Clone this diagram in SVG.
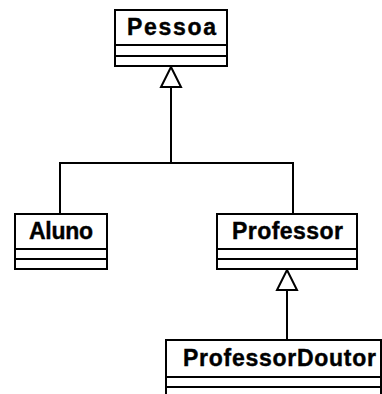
<svg xmlns="http://www.w3.org/2000/svg" width="382" height="394" viewBox="0 0 382 394">
<style>
.box{fill:#fff;stroke:#000;stroke-width:2}
.sep{stroke:#000;stroke-width:2}
.name{font-family:"Liberation Sans",Arial,sans-serif;font-weight:bold;font-size:23px;fill:#000;stroke:#000;stroke-width:0.4}
.edge{fill:none;stroke:#000;stroke-width:2}
.head{fill:#fff;stroke:#000;stroke-width:2}
</style>
<rect width="382" height="394" fill="#fff"/>
<g id="connectors">
<polyline class="edge" points="171,87 171,163"/>
<polyline class="edge" points="60,214 60,163 293,163 293,214"/>
<polygon class="head" points="171,67 181,87 161,87"/>
<line class="edge" x1="287" y1="290" x2="287" y2="340"/>
<polygon class="head" points="287,270 297,290 277,290"/>
</g>
<g id="Pessoa">
<rect class="box" x="115" y="10" width="112" height="56"/>
<line class="sep" x1="115" y1="45" x2="227" y2="45"/>
<line class="sep" x1="115" y1="56" x2="227" y2="56"/>
<text class="name" x="127" y="35" textLength="89" lengthAdjust="spacing">Pessoa</text>
</g>
<g id="Aluno">
<rect class="box" x="15" y="214" width="92" height="55"/>
<line class="sep" x1="15" y1="249" x2="107" y2="249"/>
<line class="sep" x1="15" y1="259" x2="107" y2="259"/>
<text class="name" x="29" y="239" textLength="64" lengthAdjust="spacing">Aluno</text>
</g>
<g id="Professor">
<rect class="box" x="217" y="214" width="140" height="55"/>
<line class="sep" x1="217" y1="249" x2="357" y2="249"/>
<line class="sep" x1="217" y1="259" x2="357" y2="259"/>
<text class="name" x="232" y="239" textLength="111" lengthAdjust="spacing">Professor</text>
</g>
<g id="ProfessorDoutor">
<rect class="box" x="166" y="340" width="215" height="60"/>
<line class="sep" x1="166" y1="377" x2="381" y2="377"/>
<line class="sep" x1="166" y1="387" x2="381" y2="387"/>
<text class="name" x="183" y="366" textLength="193" lengthAdjust="spacing">ProfessorDoutor</text>
</g>
</svg>
